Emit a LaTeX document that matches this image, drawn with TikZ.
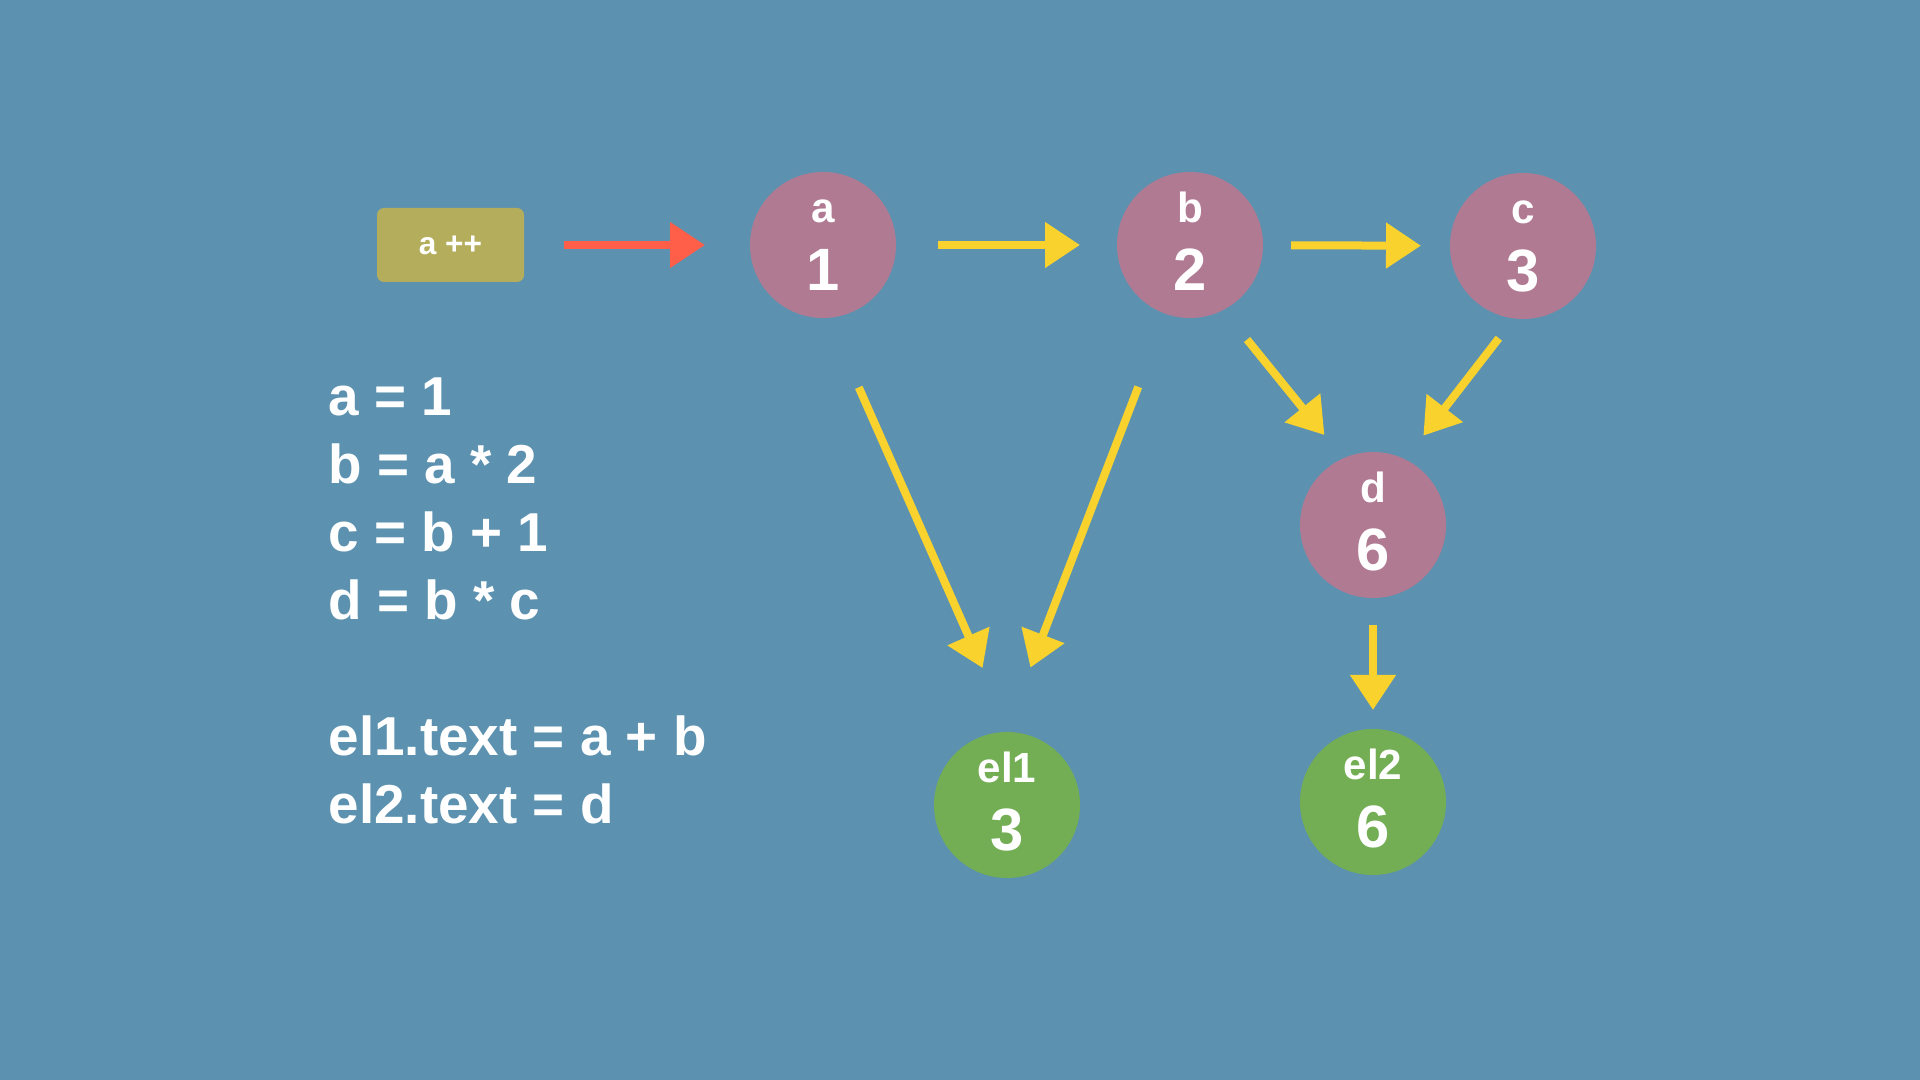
\documentclass[tikz,border=0pt]{standalone}
\usepackage{fontspec}
\setmainfont{Liberation Sans}
\usetikzlibrary{arrows.meta,positioning}

\definecolor{bgcol}{RGB}{92,146,176}
\definecolor{varcol}{RGB}{176,122,147}
\definecolor{elcol}{RGB}{115,174,85}
\definecolor{inccol}{RGB}{180,174,92}
\definecolor{chalk}{RGB}{250,210,45}
\definecolor{redchalk}{RGB}{255,94,72}

% name on top, value below
\newcommand{\vlab}[2]{{\fontsize{12}{12}\selectfont\rule{0pt}{9pt}#1}\\{\rule[-2.2pt]{0pt}{2.2pt}#2}}

\begin{document}
\begin{tikzpicture}[
  var/.style={circle,fill=varcol,minimum size=1.46cm,inner sep=0pt,outer sep=0pt,
    text=white,align=center,font=\bfseries\fontsize{17}{19.35}\selectfont},
  elem/.style={var,fill=elcol},
  op/.style={rounded corners=0.07cm,fill=inccol,minimum width=1.47cm,minimum height=0.74cm,
    inner sep=0pt,text height=0.20cm,text depth=0pt,text=white,font=\bfseries\fontsize{9}{9}\selectfont},
  link/.style={color=chalk,line width=0.08cm,-{Triangle[length=0.35cm,width=0.44cm]}},
  push/.style={link,color=redchalk},
]

\fill[bgcol] (0,0) rectangle (19.2,10.8);
\useasboundingbox (0,0) rectangle (19.2,10.8);

\node[op] (inc) at (4.505,8.35){a ++};
\node[var] (a) at (8.23,8.35){\vlab{a}{1}};
\node[var] (b) at (11.90,8.35){\vlab{b}{2}};
\node[var] (c) at (15.23,8.34){\vlab{c}{3}};
\node[var] (d) at (13.73,5.55){\vlab{d}{6}};
\node[elem] (e1) at (10.07,2.75){\vlab{el1}{3}};
\node[elem] (e2) at (13.73,2.78){\vlab{el2}{6}};

\node[anchor=north west,align=left,inner sep=0pt,text=white,
  font=\bfseries\fontsize{15.6}{19.35}\selectfont] (code) at (3.28,7.025)
  {a = 1\\b = a * 2\\c = b + 1\\d = b * c\\[19.35pt]el1.text = a + b\\el2.text = d};

\draw[push,shorten <=0.39cm,shorten >=0.45cm] (inc) -- (a);
\draw[link,shorten <=0.42cm,shorten >=0.37cm] (a) -- (b);
\draw[link,shorten <=0.28cm,shorten >=0.29cm] (b) -- (c);
\draw[link,shorten <=0.76cm,shorten >=0.70cm] (a.-86.5) -- (e1.87.4);
\draw[link,shorten <=0.78cm,shorten >=0.69cm] (b.-109.1) -- (e1.91.3);
\draw[link,shorten <=0.38cm,shorten >=0.30cm] (b.-63.3) -- (d.114.3);
\draw[link,shorten <=0.25cm,shorten >=0.30cm] (c.-97.7) -- (d.64.6);
\draw[link,shorten <=0.27cm,shorten >=0.19cm] (d) -- (e2);

\end{tikzpicture}
\end{document}
